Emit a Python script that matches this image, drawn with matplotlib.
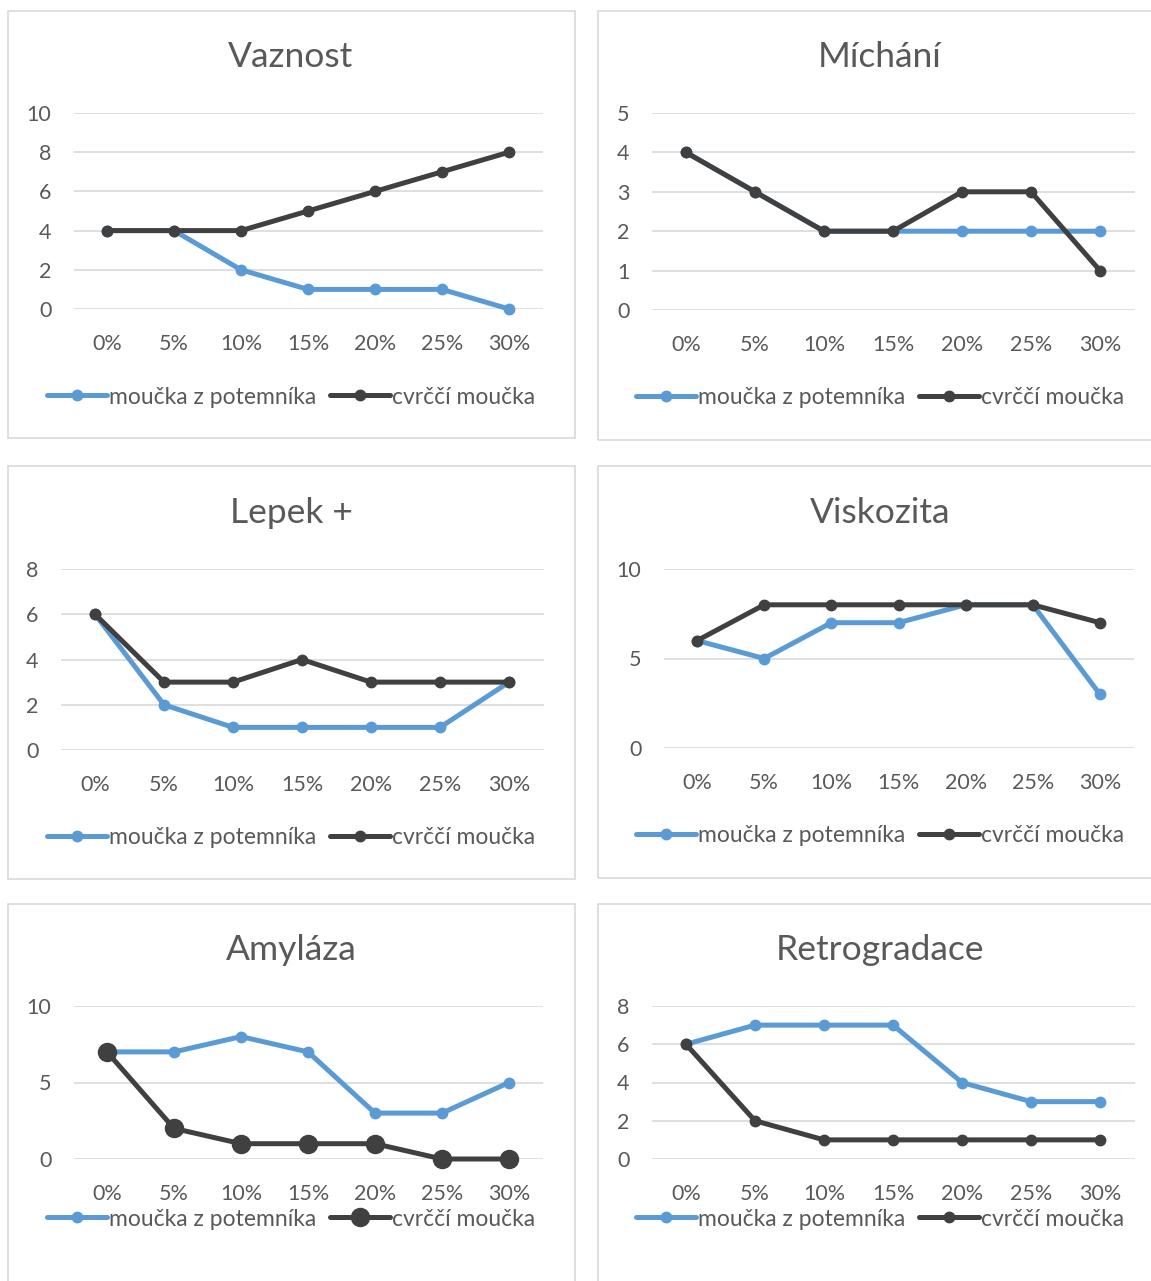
import matplotlib
matplotlib.use("Agg")
import matplotlib.pyplot as plt
from matplotlib.patches import Rectangle

plt.rcParams['font.family'] = ['Lato', 'DejaVu Sans']

categories = ["0%", "5%", "10%", "15%", "20%", "25%", "30%"]
series_names = ["moučka z potemníka", "cvrččí moučka"]

titles = ["Vaznost", "Míchání", "Lepek +", "Viskozita", "Amyláza", "Retrogradace"]

vaznost_blue = [4, 4, 2, 1, 1, 1, 0]
vaznost_dark = [4, 4, 4, 5, 6, 7, 8]
michani_blue = [4, 3, 2, 2, 2, 2, 2]
michani_dark = [4, 3, 2, 2, 3, 3, 1]
lepek_blue = [6, 2, 1, 1, 1, 1, 3]
lepek_dark = [6, 3, 3, 4, 3, 3, 3]
viskozita_blue = [6, 5, 7, 7, 8, 8, 3]
viskozita_dark = [6, 8, 8, 8, 8, 8, 7]
amylaza_blue = [7, 7, 8, 7, 3, 3, 5]
amylaza_dark = [7, 2, 1, 1, 1, 0, 0]
retro_blue = [6, 7, 7, 7, 4, 3, 3]
retro_dark = [6, 2, 1, 1, 1, 1, 1]

y_max = [10, 5, 8, 10, 10, 8]
y_step = [2, 1, 2, 5, 5, 2]

data_blue = [vaznost_blue, michani_blue, lepek_blue, viskozita_blue, amylaza_blue, retro_blue]
data_dark = [vaznost_dark, michani_dark, lepek_dark, viskozita_dark, amylaza_dark, retro_dark]

BLUE = "#5B9BD5"
DARK = "#404040"
GRID = "#D9D9D9"
TEXT = "#595959"

W, H = 1151, 1281
fig = plt.figure(figsize=(W / 100, H / 100), dpi=100)
fig.patch.set_facecolor("white")

# layout in pixels: panel border (x0, y0, x1, y1), axes (left, right, ytop, ybottom), title y, legend y
panels = [
    ((8, 11, 575, 438), (73.5, 542.5, 113, 309), 57, 397, 0),
    ((598, 11, 1160, 440), (651.5, 1134.5, 113, 310), 57, 398, 1),
    ((8, 466, 575, 879), (60.5, 543.5, 569, 750), 513, 838, 2),
    ((598, 466, 1160, 878), (663.5, 1133.5, 569, 748), 513, 836, 3),
    ((8, 904, 575, 1300), (73.5, 542.5, 1006, 1159), 950, 1219, 4),
    ((598, 904, 1160, 1300), (651.5, 1134.5, 1006, 1159), 950, 1219, 5),
]

for border, axr, ty, ly, i in panels:
    bx0, by0, bx1, by1 = border
    fig.patches.append(Rectangle((bx0 / W, 1 - by1 / H), (bx1 - bx0) / W, (by1 - by0) / H,
                                 transform=fig.transFigure, fill=False,
                                 edgecolor=GRID, linewidth=1.2))
    l, r, yt, yb = axr
    ax = fig.add_axes([l / W, 1 - yb / H, (r - l) / W, (yb - yt) / H])
    x = list(range(len(categories)))
    big = (i == 4)
    ax.plot(x, data_blue[i], color=BLUE, lw=3.6, marker="o", ms=7.5, clip_on=False,
            label=series_names[0], zorder=3, solid_capstyle="round")
    ax.plot(x, data_dark[i], color=DARK, lw=3.6, marker="o", ms=13 if big else 7.5,
            clip_on=False, label=series_names[1], zorder=4, solid_capstyle="round")
    ax.set_xlim(-0.5, len(categories) - 0.5)
    ax.set_ylim(0, y_max[i])
    ax.set_yticks(list(range(0, y_max[i] + 1, y_step[i])))
    ax.set_xticks(x)
    ax.set_xticklabels(categories)
    for s in ax.spines.values():
        s.set_visible(False)
    ax.tick_params(axis="both", length=0, labelsize=15.5, colors=TEXT)
    ax.tick_params(axis="x", pad=18)
    ax.tick_params(axis="y", pad=16)
    ax.grid(axis="y", color=GRID, lw=1.2)
    ax.set_axisbelow(True)
    cx = 880 if i % 2 == 1 else 291
    fig.text(cx / W, 1 - ty / H, titles[i], ha="center", va="center",
             fontsize=25.5, color=TEXT)
    ax.legend(loc="center", bbox_to_anchor=(cx / W, 1 - ly / H),
              bbox_transform=fig.transFigure, ncol=2, frameon=False,
              fontsize=16.5, handlelength=2.6, handletextpad=0.1,
              columnspacing=0.6, labelcolor=TEXT)

fig.savefig("out.png", dpi=100, facecolor="white")
